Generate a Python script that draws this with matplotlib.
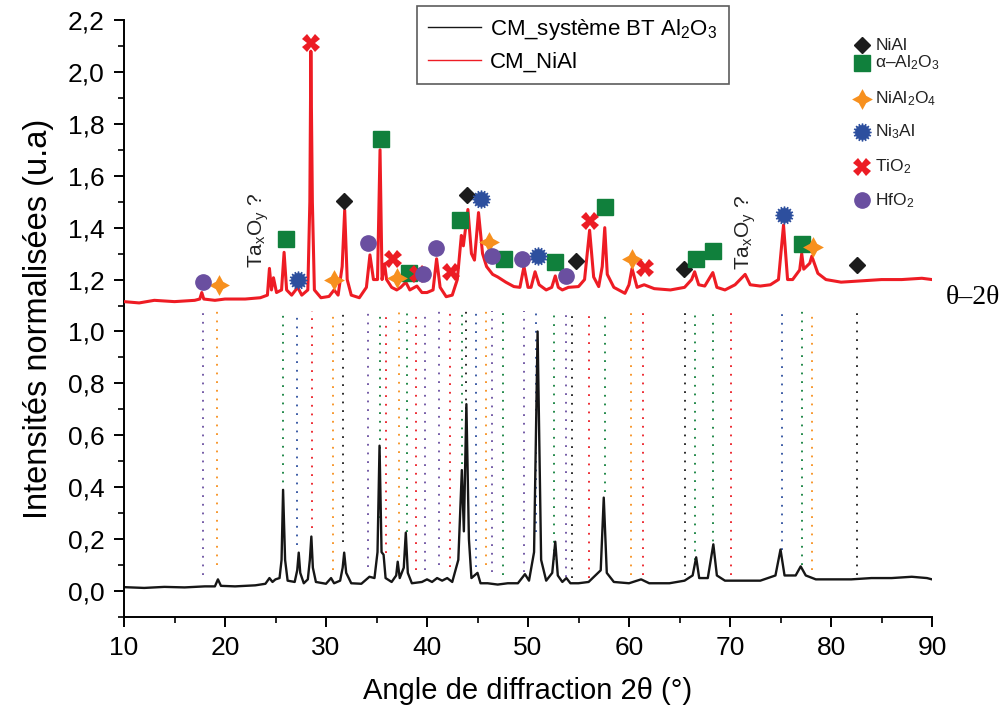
import matplotlib
matplotlib.use("Agg")
import matplotlib.pyplot as plt
from matplotlib.ticker import MultipleLocator, FuncFormatter

plt.rcParams["font.family"] = ["Liberation Sans", "DejaVu Sans"]
plt.rcParams["mathtext.fontset"] = "custom"
plt.rcParams["mathtext.rm"] = "Liberation Sans"
plt.rcParams["mathtext.it"] = "Liberation Sans:italic"

# ── diffractogram vertices ────────────────────────────────────────────────────
bt_x = [10.0, 12.0, 14.0, 16.0, 18.0, 19.0, 19.3, 19.6, 21.0, 23.0, 24.0, 24.4, 24.7, 25.0,
        25.4, 25.6, 25.75, 25.95, 26.2, 26.9, 27.15, 27.3, 27.45, 27.8, 28.2, 28.4, 28.55,
        28.7, 29.0, 30.0, 30.5, 30.8, 31.4, 31.65, 31.8, 32.0, 32.5, 33.5, 34.3, 34.8, 35.1,
        35.3, 35.5, 35.7, 35.9, 36.5, 36.95, 37.1, 37.3, 37.7, 37.9, 38.1, 38.5, 39.5, 40.0,
        40.5, 41.0, 41.5, 42.0, 42.5, 43.1, 43.45, 43.65, 43.9, 44.15, 44.4, 45.0, 45.3, 46.0,
        47.0, 48.0, 49.0, 49.7, 50.1, 50.6, 50.95, 51.3, 51.8, 52.4, 52.7, 52.95, 53.4, 53.8,
        54.2, 55.0, 56.0, 57.2, 57.5, 57.8, 58.5, 60.0, 61.2, 62.0, 64.0, 65.5, 66.3, 66.65,
        66.95, 67.8, 68.35, 68.7, 69.5, 71.0, 73.0, 74.5, 75.0, 75.4, 76.5, 77.0, 77.5, 78.5,
        80.0, 82.0, 84.0, 86.0, 88.0, 89.5, 90.0]
bt_y = [0.015, 0.012, 0.016, 0.014, 0.018, 0.018, 0.045, 0.02, 0.018, 0.022, 0.028, 0.05, 0.035, 0.045,
        0.05, 0.12, 0.39, 0.12, 0.04, 0.035, 0.08, 0.148, 0.07, 0.03, 0.045, 0.12, 0.21,
        0.09, 0.035, 0.028, 0.05, 0.03, 0.04, 0.09, 0.148, 0.07, 0.03, 0.028, 0.055, 0.05, 0.15,
        0.56, 0.15, 0.14, 0.05, 0.035, 0.06, 0.113, 0.05, 0.09, 0.225, 0.07, 0.03, 0.035, 0.045,
        0.035, 0.05, 0.04, 0.05, 0.035, 0.12, 0.466, 0.23, 0.72, 0.2, 0.05, 0.07, 0.03, 0.03,
        0.025, 0.03, 0.03, 0.065, 0.04, 0.15, 1.0, 0.12, 0.04, 0.07, 0.19, 0.06, 0.035, 0.05,
        0.03, 0.03, 0.035, 0.08, 0.36, 0.07, 0.035, 0.03, 0.045, 0.03, 0.03, 0.04, 0.06, 0.13,
        0.05, 0.05, 0.18, 0.06, 0.04, 0.04, 0.04, 0.06, 0.16, 0.06, 0.06, 0.095, 0.06, 0.045,
        0.045, 0.045, 0.05, 0.05, 0.055, 0.05, 0.045]

nial_cx = [10.0, 11.5, 13.0, 15.0, 17.0, 17.5, 17.7, 17.9, 19.0, 20.0, 22.0, 23.5, 24.2, 24.4,
           24.6, 24.8, 25.1, 25.6, 25.85, 26.1, 26.6, 27.2, 27.6, 28.2, 28.4, 28.5, 28.65, 28.85,
           29.5, 30.3, 30.8, 31.2, 31.6, 31.85, 32.1, 32.5, 33.3, 34.0, 34.35, 34.7, 35.1, 35.35,
           35.55, 35.8, 36.0, 36.5, 37.0, 37.4, 37.9, 38.3, 39.0, 39.5, 40.0, 40.6, 40.95, 41.3,
           41.9, 42.5, 43.0, 43.4, 43.6, 44.05, 44.4, 44.7, 45.1, 45.5, 45.9, 46.5, 47.0, 47.8,
           48.6, 49.2, 49.6, 50.0, 50.3, 50.7, 51.1, 51.8, 52.35, 52.7, 53.0, 53.4, 54.0, 55.0,
           55.6, 56.1, 56.5, 57.0, 57.35, 57.6, 57.85, 58.5, 59.6, 60.0, 60.3, 60.8, 61.5, 62.5,
           64.1, 65.5, 66.2, 66.5, 66.9, 67.5, 68.3, 68.7, 69.5, 70.5, 71.5, 72.0, 73.0, 74.0,
           74.8, 75.3, 75.7, 76.2, 76.9, 77.1, 77.3, 77.9, 78.1, 78.7, 79.5, 81.0, 83.0, 85.0,
           87.0, 89.0, 90.0]
nial_cy = [1.115, 1.11, 1.12, 1.115, 1.12, 1.125, 1.15, 1.125, 1.12, 1.125, 1.125, 1.13, 1.14, 1.243,
           1.16, 1.207, 1.15, 1.16, 1.305, 1.16, 1.14, 1.17, 1.14, 1.16, 1.5, 2.08, 1.5, 1.16,
           1.13, 1.135, 1.16, 1.14, 1.25, 1.468, 1.2, 1.14, 1.13, 1.17, 1.295, 1.2, 1.2, 1.70,
           1.2, 1.26, 1.2, 1.17, 1.16, 1.17, 1.19, 1.16, 1.175, 1.15, 1.15, 1.16, 1.28, 1.17,
           1.134, 1.14, 1.2, 1.37, 1.33, 1.47, 1.3, 1.275, 1.458, 1.3, 1.25, 1.22, 1.21, 1.19,
           1.173, 1.17, 1.25, 1.17, 1.17, 1.23, 1.18, 1.16, 1.17, 1.214, 1.17, 1.16, 1.17, 1.173,
           1.2, 1.39, 1.21, 1.173, 1.25, 1.40, 1.22, 1.17, 1.147, 1.18, 1.243, 1.17, 1.18, 1.165,
           1.16, 1.17, 1.2, 1.23, 1.18, 1.175, 1.227, 1.17, 1.16, 1.18, 1.22, 1.18, 1.175, 1.18,
           1.2, 1.41, 1.2, 1.2, 1.237, 1.30, 1.24, 1.263, 1.29, 1.224, 1.20, 1.19, 1.195, 1.2,
           1.2, 1.205, 1.2]

# ── phase markers ─────────────────────────────────────────────────────────────
nial_x = [31.8, 44.0, 54.8, 65.4, 82.6]
nial_y = [1.504, 1.526, 1.27, 1.24, 1.256]
al2o3_x = [26.0, 35.4, 38.2, 43.3, 47.6, 52.7, 57.6, 66.6, 68.3, 77.1]
al2o3_y = [1.355, 1.74, 1.224, 1.43, 1.28, 1.267, 1.48, 1.28, 1.31, 1.336]
nial2o4_x = [19.4, 30.8, 37.0, 46.1, 60.3, 78.2]
nial2o4_y = [1.18, 1.20, 1.205, 1.344, 1.28, 1.327]
ni3al_x = [27.2, 45.3, 51.0, 75.3]
ni3al_y = [1.20, 1.51, 1.29, 1.45]
tio2_x = [28.5, 36.6, 39.1, 42.4, 56.1, 61.6]
tio2_y = [2.11, 1.28, 1.22, 1.23, 1.427, 1.245]
hfo2_x = [17.8, 34.2, 39.6, 40.9, 46.4, 49.4, 53.8]
hfo2_y = [1.19, 1.34, 1.22, 1.32, 1.29, 1.28, 1.214]

# dotted reference lines: position, phase, lower end
ref_x = [17.8, 19.2, 25.7, 27.1, 28.6, 30.7, 31.7, 34.2, 35.3, 35.9, 37.2, 38.0, 38.9, 39.8,
         41.2, 42.3, 43.5, 43.9, 44.9, 45.8, 46.4, 47.5, 49.6, 50.8, 52.6, 53.8, 54.4, 56.0,
         57.6, 60.2, 61.4, 65.5, 66.5, 68.3, 70.1, 75.1, 77.1, 78.1, 82.6]
ref_phase = ["HfO2", "NiAl2O4", "Al2O3", "Ni3Al", "TiO2", "NiAl2O4", "NiAl", "HfO2", "Al2O3",
             "TiO2", "NiAl2O4", "Al2O3", "TiO2", "HfO2", "HfO2", "TiO2", "Al2O3", "NiAl",
             "Ni3Al", "NiAl2O4", "HfO2", "Al2O3", "HfO2", "Ni3Al", "Al2O3", "HfO2", "NiAl",
             "TiO2", "Al2O3", "NiAl2O4", "TiO2", "NiAl", "Al2O3", "Al2O3", "TiO2", "Ni3Al",
             "Al2O3", "NiAl2O4", "NiAl"]
ref_bottom = [0.062, 0.10, 0.285, 0.177, 0.243, 0.081, 0.189, 0.092, 0.28, 0.146, 0.131, 0.227,
              0.081, 0.081, 0.10, 0.092, 0.49, 0.70, 0.092, 0.10, 0.074, 0.062, 0.074, 0.227,
              0.12, 0.054, 0.05, 0.05, 0.38, 0.06, 0.06, 0.06, 0.12, 0.16, 0.06, 0.16, 0.10,
              0.08, 0.06]

colors = {"NiAl": "#1c1c1c", "Al2O3": "#10803c", "NiAl2O4": "#f7901e",
          "Ni3Al": "#2d4f9e", "TiO2": "#ec1c24", "HfO2": "#6a4fa0"}

# ── figure ────────────────────────────────────────────────────────────────────
fig = plt.figure(figsize=(10, 7.08), dpi=100)
ax = fig.add_axes([0.124, 1 - 617 / 708, 0.808, 597 / 708])

ax.vlines(ref_x, ref_bottom, 1.08, colors=[colors[p] for p in ref_phase],
          linestyles=(0, (1, 3.8)), linewidth=1.3, zorder=1)

ax.plot(bt_x, bt_y, color="#161616", lw=1.7, zorder=2, label="CM_système BT Al$_2$O$_3$")
ax.plot(nial_cx, nial_cy, color="#ee1c24", lw=2.2, zorder=3, label="CM_NiAl")


def draw_markers(x, y, key, marker, ms, mew=1):
    ax.plot(x, y, ls="none", marker=marker, ms=ms, color=colors[key],
            mec=colors[key], mew=mew, zorder=5, clip_on=False)


# phase -> (marker, size, edge width); Ni3Al is a circle under a 16-point star
styles = {"NiAl": [("D", 8.5, 1)],
          "Al2O3": [("s", 11, 1)],
          "NiAl2O4": [((4, 1, 0), 15, 0)],
          "Ni3Al": [("o", 9.5, 1), ((16, 1, 0), 13, 1)],
          "TiO2": [("X", 12.5, 0)],
          "HfO2": [("o", 11, 1)]}

for key, xs, ys in [("NiAl", nial_x, nial_y), ("Al2O3", al2o3_x, al2o3_y),
                    ("NiAl2O4", nial2o4_x, nial2o4_y), ("Ni3Al", ni3al_x, ni3al_y),
                    ("TiO2", tio2_x, tio2_y), ("HfO2", hfo2_x, hfo2_y)]:
    for m, ms, mew in styles[key]:
        draw_markers(xs, ys, key, m, ms, mew)

# marker key on the right
key_rows = [("NiAl", "NiAl", 0.958),
            ("Al2O3", "α–Al$_2$O$_3$", 0.928),
            ("NiAl2O4", "NiAl$_2$O$_4$", 0.868),
            ("Ni3Al", "Ni$_3$Al", 0.813),
            ("TiO2", "TiO$_2$", 0.754),
            ("HfO2", "HfO$_2$", 0.698)]
for key, label, fy in key_rows:
    for m, ms, mew in styles[key]:
        ax.plot([0.913], [fy], transform=ax.transAxes, ls="none", marker=m, ms=ms,
                color=colors[key], mew=mew, clip_on=False, zorder=5)
    ax.text(0.93, fy, label, transform=ax.transAxes, fontsize=12.5, va="center",
            ha="left", color="#222222")

# unidentified tantalum oxide
for tx, ty in [(23.3, 1.245), (71.6, 1.235)]:
    ax.text(tx, ty, r"Ta$_\mathrm{x}$O$_\mathrm{y}$ ?", rotation=90, fontsize=15,
            ha="center", va="bottom", color="#222222")

fig.text(0.946, 1 - 297 / 708, "θ–2θ", fontsize=20, family=["Liberation Serif"],
         va="center", ha="left")

leg = ax.legend(loc="upper left", bbox_to_anchor=(0.417, 1 - 6 / 708),
                bbox_transform=fig.transFigure, fontsize=16, frameon=True, fancybox=False,
                edgecolor="#333333", handlelength=2.4, borderpad=0.5, labelspacing=0.45,
                handletextpad=0.4, borderaxespad=0)
leg.get_frame().set_linewidth(1.2)
for line in leg.get_lines():
    line.set_linewidth(1.0)
leg.set_zorder(6)

ax.set_xlim(10, 90)
ax.set_ylim(-0.1, 2.2)
ax.xaxis.set_major_locator(MultipleLocator(10))
ax.xaxis.set_minor_locator(MultipleLocator(5))
ax.yaxis.set_major_locator(MultipleLocator(0.2))
ax.yaxis.set_minor_locator(MultipleLocator(0.1))
ax.yaxis.set_major_formatter(FuncFormatter(lambda v, p: f"{v:.1f}".replace(".", ",")))
ax.tick_params(which="major", direction="out", length=7, width=1.4, labelsize=19, pad=7)
ax.tick_params(which="minor", direction="out", length=4, width=1.2)
ax.spines["top"].set_visible(False)
ax.spines["right"].set_visible(False)
for s in ("left", "bottom"):
    ax.spines[s].set_linewidth(1.4)

ax.set_xlabel("Angle de diffraction 2θ (°)", fontsize=21, labelpad=12)
ax.set_ylabel("Intensités normalisées (u.a)", fontsize=23.5, labelpad=10)

fig.savefig("out.png", dpi=100)
